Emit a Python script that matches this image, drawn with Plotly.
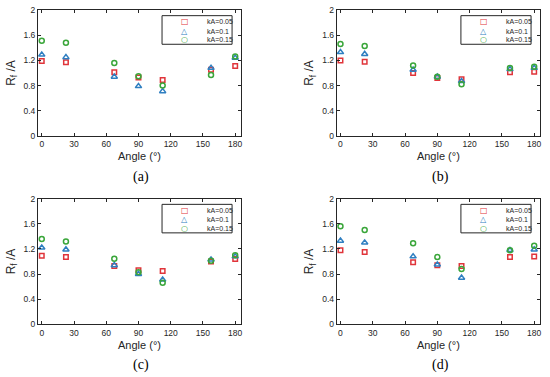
import plotly.graph_objects as go

angles = [0, 22.5, 67.5, 90, 112.5, 157.5, 180]
series_names = ["kA=0.05", "kA=0.1", "kA=0.15"]
panel_labels = ["(a)", "(b)", "(c)", "(d)"]

a_005 = [1.19, 1.17, 1.01, 0.93, 0.89, 1.05, 1.11]
a_010 = [1.29, 1.25, 0.94, 0.79, 0.71, 1.08, 1.24]
a_015 = [1.51, 1.48, 1.16, 0.95, 0.80, 0.97, 1.26]

b_005 = [1.20, 1.18, 1.00, 0.92, 0.90, 1.01, 1.02]
b_010 = [1.33, 1.30, 1.05, 0.94, 0.87, 1.06, 1.08]
b_015 = [1.46, 1.43, 1.12, 0.94, 0.82, 1.08, 1.10]

c_005 = [1.09, 1.07, 0.93, 0.86, 0.85, 1.00, 1.04]
c_010 = [1.22, 1.19, 0.94, 0.80, 0.71, 1.03, 1.08]
c_015 = [1.36, 1.32, 1.045, 0.83, 0.66, 1.01, 1.10]

d_005 = [1.18, 1.15, 0.99, 0.94, 0.93, 1.07, 1.08]
d_010 = [1.33, 1.30, 1.08, 0.95, 0.74, 1.18, 1.19]
d_015 = [1.56, 1.50, 1.29, 1.07, 0.88, 1.18, 1.25]

panels = [
    [a_005, a_010, a_015],
    [b_005, b_010, b_015],
    [c_005, c_010, c_015],
    [d_005, d_010, d_015],
]

x_ticks = [0, 30, 60, 90, 120, 150, 180]
y_ticks = [0, 0.4, 0.8, 1.2, 1.6, 2]
y_tick_text = ["0", "0.4", "0.8", "1.2", "1.6", "2"]

colors = ["#e0343a", "#2f7fc1", "#3aa63a"]
symbols = ["square-open", "triangle-up-open", "circle-open"]
sizes = [4.5, 5.5, 5]
glyphs = ["\u25a1", "\u25b3", "\u25cb"]

W, H = 550, 377
# plot area pixel boxes (left, right, top, bottom)
boxes = [
    (38, 241, 10, 136),
    (336.7, 540, 10, 136),
    (38, 241, 198.7, 324.3),
    (336.7, 540, 198.7, 324.3),
]

fig = go.Figure()
axc = "#262626"
font_tick = dict(family="Liberation Sans, Arial", size=8.5, color=axc)

for i, (vals, box) in enumerate(zip(panels, boxes)):
    n = "" if i == 0 else str(i + 1)
    xa, ya = "x" + n, "y" + n
    l, r, t, b = box
    for s in range(3):
        fig.add_trace(go.Scatter(
            x=angles, y=vals[s], mode="markers", name=series_names[s],
            xaxis=xa, yaxis=ya, showlegend=False,
            marker=dict(symbol=symbols[s], size=sizes[s], color=colors[s],
                        line=dict(width=1.5, color=colors[s])),
        ))
    fig.layout["xaxis" + n] = dict(
        domain=[l / W, r / W], anchor=ya, range=[-3.5, 185.4], automargin=False,
        tickvals=x_ticks, ticks="inside", ticklen=3, tickcolor=axc,
        showline=True, linecolor=axc, linewidth=1, mirror="ticks",
        showgrid=False, zeroline=False, tickfont=font_tick,
        title=dict(text="Angle (°)", font=dict(family="Liberation Sans, Arial", size=11, color=axc), standoff=4),
    )
    fig.layout["yaxis" + n] = dict(
        domain=[1 - b / H, 1 - t / H], anchor=xa, range=[0, 2], automargin=False,
        tickvals=y_ticks, ticktext=y_tick_text, ticks="inside", ticklen=3, tickcolor=axc,
        showline=True, linecolor=axc, linewidth=1, mirror="ticks",
        showgrid=False, zeroline=False, tickfont=font_tick,
        title=dict(text="R<sub>f</sub> /A", font=dict(family="Liberation Sans, Arial", size=12, color=axc), standoff=5),
    )
    # legend box
    xd, yd = xa + " domain", ya + " domain"
    fig.add_shape(type="rect", xref=xd, yref=yd, x0=0.611, x1=0.956, y0=0.728, y1=0.955,
                  line=dict(color=axc, width=1), fillcolor="white", layer="above")
    rows = [0.907, 0.833, 0.762]
    for s in range(3):
        fig.add_annotation(xref=xd, yref=yd, x=0.724, y=rows[s], text=glyphs[s], showarrow=False,
                           font=dict(family="DejaVu Sans", size=8, color=colors[s]),
                           xanchor="center", yanchor="middle")
        fig.add_annotation(xref=xd, yref=yd, x=0.823, y=rows[s], text=series_names[s], showarrow=False,
                           font=dict(family="Liberation Sans, Arial", size=7, color=axc),
                           xanchor="left", yanchor="middle")
    # panel label
    fig.add_annotation(xref="paper", yref="paper", x=(l + r) / 2 / W + 0.003, y=1 - (b + 41) / H,
                       text=panel_labels[i], showarrow=False,
                       font=dict(family="Liberation Serif, Times New Roman", size=14, color="black"),
                       xanchor="center", yanchor="middle")

fig.update_layout(width=W, height=H, margin=dict(l=0, r=0, t=0, b=0),
                  plot_bgcolor="white", paper_bgcolor="white")
fig.write_html("out.html", config={"displayModeBar": False},
               post_script="document.body.style.margin='0px';document.body.style.padding='0px';")
